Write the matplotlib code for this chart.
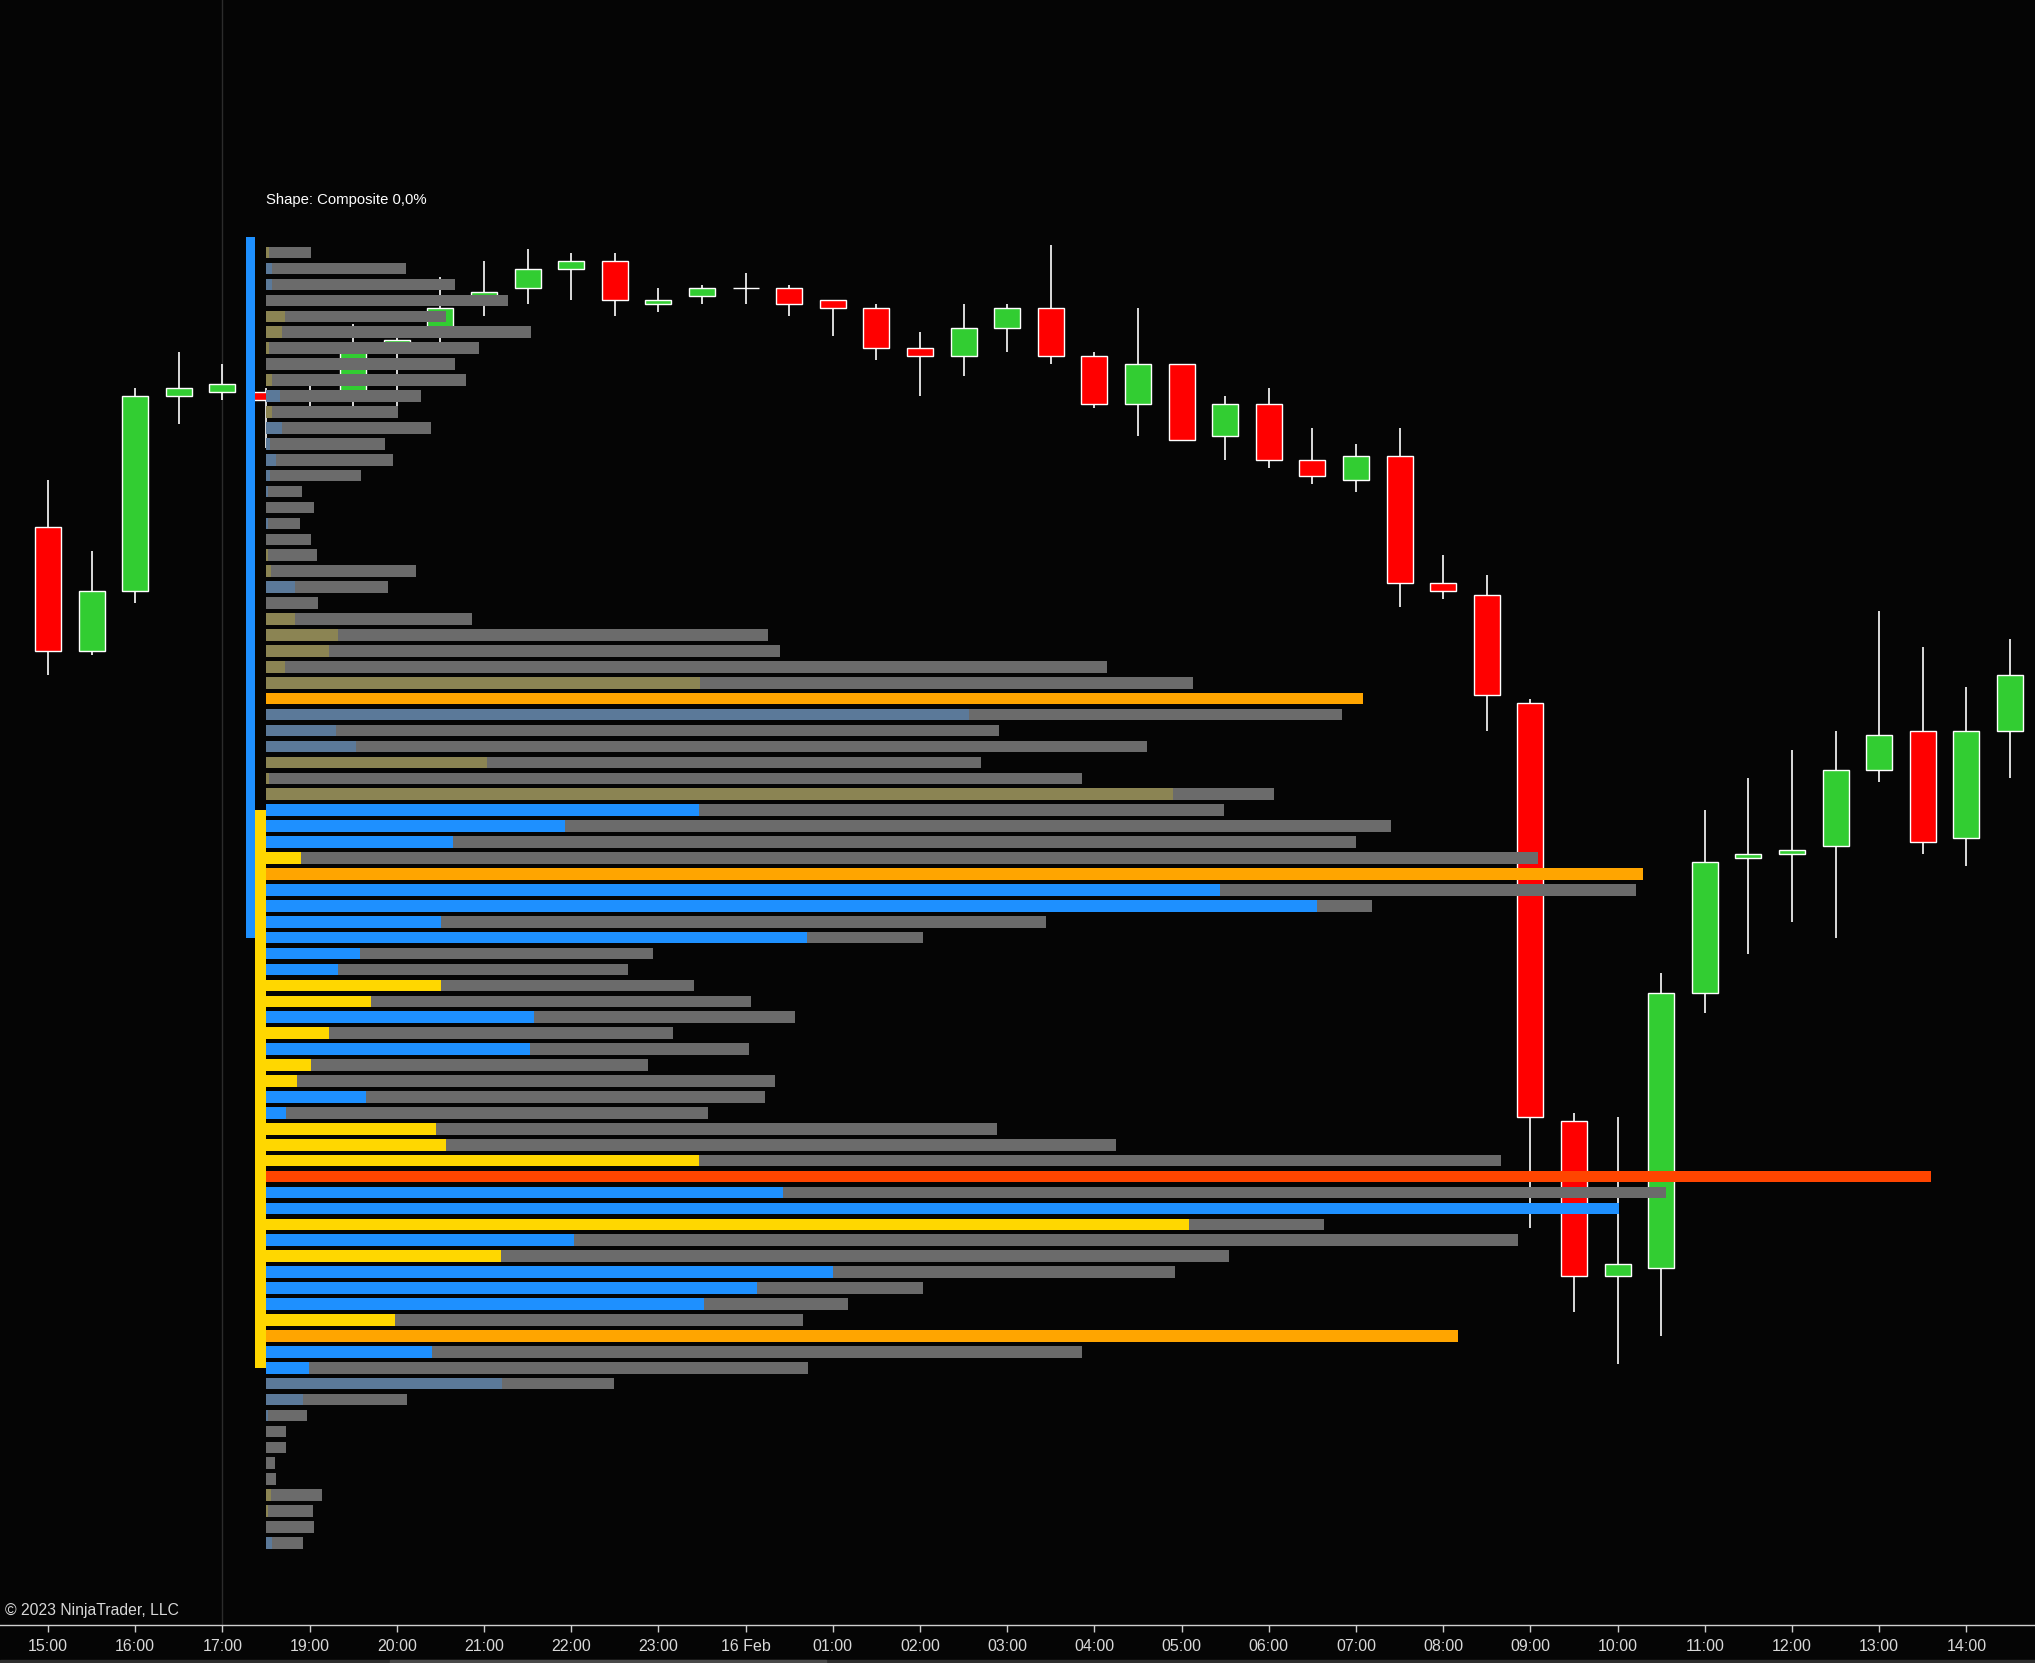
import numpy as np
import matplotlib
matplotlib.use("Agg")
import matplotlib.pyplot as plt
from matplotlib.patches import Rectangle

plt.rcParams['font.family'] = ['Liberation Sans', 'DejaVu Sans']

# ---------------- data ----------------
bar_times = ['15:00', '15:30', '16:00', '16:30', '17:00', '18:30', '19:00', '19:30',
             '20:00', '20:30', '21:00', '21:30', '22:00', '22:30', '23:00', '23:30',
             '00:00', '00:30', '01:00', '01:30', '02:00', '02:30', '03:00', '03:30',
             '04:00', '04:30', '05:00', '05:30', '06:00', '06:30', '07:00', '07:30',
             '08:00', '08:30', '09:00', '09:30', '10:00', '10:30', '11:00', '11:30',
             '12:00', '12:30', '13:00', '13:30', '14:00', '14:30']

opens = [12363.75, 12356.00, 12359.75, 12372.00, 12372.25, 12372.25, 12372.00, 12372.25,
         12375.25, 12376.25, 12378.25, 12378.75, 12380.00, 12380.50, 12377.75, 12378.25,
         12378.75, 12378.75, 12378.00, 12377.50, 12375.00, 12374.50, 12376.25, 12377.50,
         12374.50, 12371.50, 12374.00, 12369.50, 12371.50, 12368.00, 12366.75, 12368.25,
         12360.25, 12359.50, 12352.75, 12326.50, 12316.75, 12317.25, 12334.50, 12343.00,
         12343.25, 12343.75, 12348.50, 12351.00, 12344.25, 12351.00]
highs = [12366.75, 12362.25, 12372.50, 12374.75, 12374.00, 12372.50, 12372.75, 12376.50,
         12375.75, 12379.50, 12380.50, 12381.25, 12381.00, 12381.00, 12378.75, 12379.00,
         12379.75, 12379.00, 12378.00, 12377.75, 12376.00, 12377.75, 12377.75, 12381.50,
         12374.75, 12377.50, 12374.00, 12372.00, 12372.50, 12370.00, 12369.00, 12370.00,
         12362.00, 12360.75, 12353.00, 12327.00, 12326.75, 12335.75, 12346.00, 12348.00,
         12349.75, 12351.00, 12358.50, 12356.25, 12353.75, 12356.75]
lows = [12354.50, 12355.75, 12359.00, 12370.25, 12371.75, 12368.75, 12371.25, 12371.25,
        12371.25, 12375.25, 12377.00, 12377.75, 12378.00, 12377.00, 12377.25, 12377.75,
        12377.75, 12377.00, 12375.75, 12374.25, 12372.00, 12373.25, 12374.75, 12374.00,
        12371.25, 12369.50, 12369.25, 12368.00, 12367.50, 12366.50, 12366.00, 12358.75,
        12359.25, 12351.00, 12319.75, 12314.50, 12311.25, 12313.00, 12333.25, 12337.00,
        12339.00, 12338.00, 12347.75, 12343.25, 12342.50, 12348.00]
closes = [12356.00, 12359.75, 12372.00, 12372.50, 12372.75, 12371.75, 12372.25, 12374.75,
          12375.50, 12377.50, 12378.50, 12380.00, 12380.50, 12378.00, 12378.00, 12378.75,
          12378.75, 12377.75, 12377.50, 12375.00, 12374.50, 12376.25, 12377.50, 12374.50,
          12371.50, 12374.00, 12369.25, 12371.50, 12368.00, 12367.00, 12368.25, 12360.25,
          12359.75, 12353.25, 12326.75, 12316.75, 12317.50, 12334.50, 12342.75, 12343.25,
          12343.50, 12348.50, 12350.75, 12344.00, 12351.00, 12354.50]

# volume profile (top row -> bottom row)
row_prices = [12381, 12380, 12379, 12378, 12377, 12376, 12375, 12374, 12373, 12372,
              12371, 12370, 12369, 12368, 12367, 12366, 12365, 12364, 12363, 12362,
              12361, 12360, 12359, 12358, 12357, 12356, 12355, 12354, 12353, 12352,
              12351, 12350, 12349, 12348, 12347, 12346, 12345, 12344, 12343, 12342,
              12341, 12340, 12339, 12338, 12337, 12336, 12335, 12334, 12333, 12332,
              12331, 12330, 12329, 12328, 12327, 12326, 12325, 12324, 12323, 12322,
              12321, 12320, 12319, 12318, 12317, 12316, 12315, 12314, 12313, 12312,
              12311, 12310, 12309, 12308, 12307, 12306, 12305, 12304, 12303, 12302,
              12301, 12300]
row_totals = [138, 431, 581, 746, 554, 817, 655, 584, 615, 478,
              406, 509, 366, 391, 293, 111, 148, 104, 138, 157,
              462, 376, 160, 635, 1547, 1585, 2592, 2856, 3380, 3316,
              2260, 2716, 2204, 2516, 3108, 2952, 3468, 3360, 3922, 4243,
              4221, 3410, 2404, 2024, 1192, 1115, 1318, 1494, 1630, 1254,
              1488, 1178, 1570, 1538, 1363, 2252, 2620, 3806, 5131, 4315,
              4170, 3260, 3859, 2968, 2801, 2024, 1794, 1655, 3674, 2516,
              1672, 1073, 434, 127, 62, 62, 28, 32, 174, 144,
              147, 113]
row_parts = [8, 17, 17, 0, 58, 49, 8, 0, 18, 42,
             18, 49, 12, 32, 12, 5, 0, 5, 0, 6,
             14, 89, 0, 89, 222, 195, 58, 1338, 3380, 2168,
             216, 276, 681, 8, 2796, 1334, 923, 575, 108, 4243,
             2940, 3240, 540, 1668, 290, 222, 540, 324, 826, 195,
             813, 138, 95, 308, 63, 524, 555, 1334, 5131, 1595,
             4170, 2845, 949, 725, 1747, 1512, 1350, 398, 3674, 511,
             132, 726, 113, 6, 0, 0, 0, 0, 16, 5,
             0, 18]
row_kinds = ['o', 's', 's', 'g', 'o', 'o', 'o', 'g', 'o', 's',
             'o', 's', 's', 's', 's', 's', 'g', 's', 'g', 'o',
             'o', 's', 'g', 'o', 'o', 'o', 'o', 'o', 'O', 's',
             's', 's', 'o', 'o', 'o', 'b', 'b', 'b', 'y', 'O',
             'b', 'b', 'b', 'b', 'b', 'b', 'y', 'y', 'b', 'y',
             'b', 'y', 'y', 'b', 'b', 'y', 'y', 'y', 'R', 'b',
             'b', 'y', 'b', 'y', 'b', 'b', 'b', 'y', 'O', 'b',
             'b', 's', 's', 's', 'g', 'g', 'g', 'g', 'o', 'o',
             'g', 's']

blue_range = (12338, 12382)
yellow_range = (12311, 12346)

# ---------------- style ----------------
BG = '#050505'
GRAY = '#6b6b6b'
KIND_COLORS = {'g': GRAY, 'o': '#8b8453', 's': '#5b7999', 'b': '#1e90ff',
               'y': '#ffd700', 'O': '#ffa500', 'R': '#ff4500'}
UP, DOWN, DOJI = '#32cd32', '#ff0000', '#ffffff'

W, H = 2035, 1663
fig = plt.figure(figsize=(W / 100, H / 100), dpi=100, facecolor=BG)
ax = fig.add_axes([0, 38 / H, 1, 1625 / H])
ax.set_facecolor(BG)

x = np.arange(len(bar_times))
o = np.array(opens); c = np.array(closes)
cols = [UP if cc > oo else (DOWN if cc < oo else DOJI) for oo, cc in zip(o, c)]

ax.axvline(4, color='#2c2c2c', lw=1, zorder=1)
ax.vlines(x, lows, highs, colors='white', lw=1.2, zorder=2)
ax.bar(x, c - o, bottom=o, width=0.6, color=cols, edgecolor='white',
       linewidth=1.0, zorder=3)

# session range bars
ax.bar(4.65, blue_range[1] - blue_range[0], bottom=blue_range[0], width=0.218,
       color='#1e90ff', linewidth=0, zorder=4)
ax.bar(4.8795, yellow_range[1] - yellow_range[0], bottom=yellow_range[0], width=0.241,
       color='#ffd700', linewidth=0, zorder=4)

ax.set_xlim(-1.101, 45.573)
ax.set_ylim(12294.85, 12396.86)

tick_pos = [i for i, t in enumerate(bar_times) if t.endswith(':00')]
tick_lab = ['16 Feb' if bar_times[i] == '00:00' else bar_times[i] for i in tick_pos]
ax.set_xticks(tick_pos)
ax.set_xticklabels(tick_lab)
ax.set_yticks([])
for s in ['left', 'right', 'top']:
    ax.spines[s].set_visible(False)
ax.spines['bottom'].set_color('#cfcfcf')
ax.spines['bottom'].set_linewidth(1.0)
ax.tick_params(axis='x', colors='#cfcfcf', labelcolor='#d8d8d8', length=5,
               width=1, pad=5, labelsize=11.5)

# profile on twin axis
ax2 = ax.twiny()
ax2.set_xlim(-266 / 0.32445, (W - 266) / 0.32445)
ax2.set_ylim(12294.85, 12396.86)
ax2.barh(row_prices, row_totals, height=0.73, color=GRAY, linewidth=0)
part_vals = [t if k in ('O', 'R') else p for t, p, k in zip(row_totals, row_parts, row_kinds)]
ax2.barh(row_prices, part_vals, height=0.73,
         color=[KIND_COLORS[k] for k in row_kinds], linewidth=0)
ax2.axis('off')

fig.text(266 / W, 1 - 200 / H, 'Shape: Composite 0,0%', color='white',
         fontsize=10.7, ha='left', va='center')
fig.text(5 / W, 1 - 1610 / H, '\u00a9 2023 NinjaTrader, LLC', color='#d8d8d8',
         fontsize=11.3, ha='left', va='center')

fig.patches.append(Rectangle((0, 0), 1, 3 / H, transform=fig.transFigure,
                             color='#2e2e2e', zorder=0))
fig.patches.append(Rectangle((390 / W, 0), 436 / W, 3 / H, transform=fig.transFigure,
                             color='#4a4a4a', zorder=0))

fig.savefig('out.png', dpi=100, facecolor=BG)
